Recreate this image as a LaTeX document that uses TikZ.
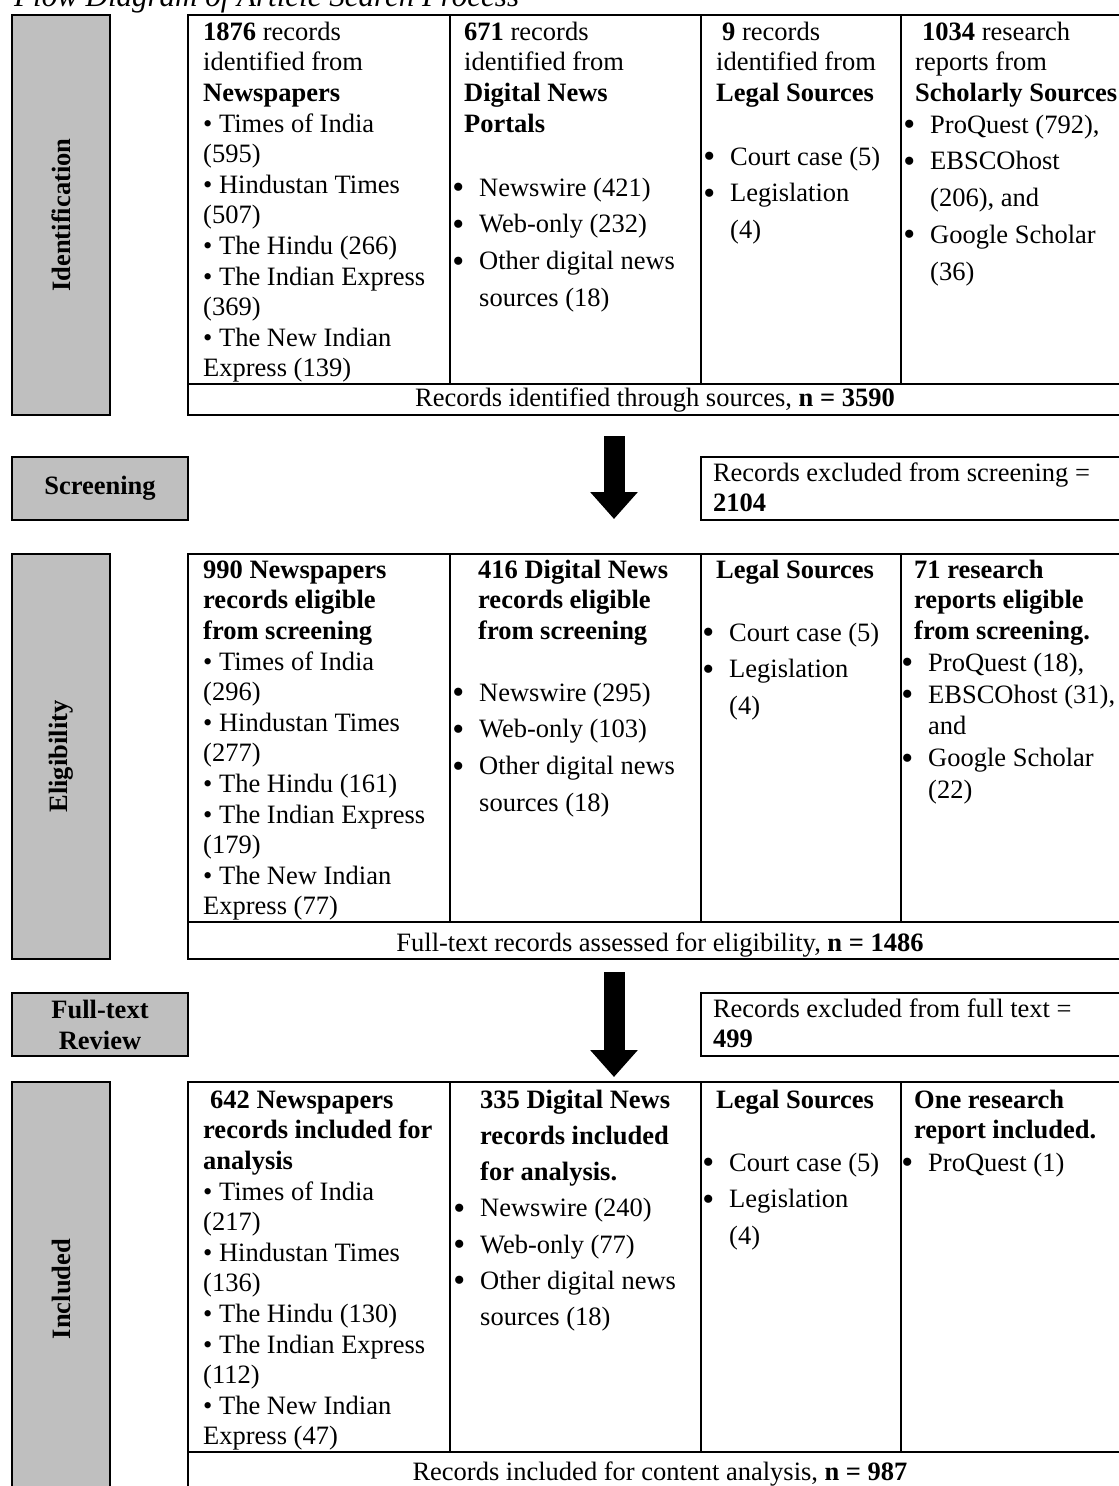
\documentclass[tikz,border=0pt]{standalone}
\usepackage{fontspec}
\setmainfont{Liberation Serif}
\usetikzlibrary{arrows.meta,positioning}
\definecolor{stagegray}{RGB}{191,191,191}
\newcommand{\cellfont}{\fontsize{26.5}{30.6}\selectfont}
\newcommand{\listfont}{\fontsize{26.5}{36.7}\selectfont}
\newcommand{\tstrut}{\rule{0pt}{20pt}}
\newcommand{\bul}{\llap{\raisebox{-2.5pt}{\fontsize{34}{34}\selectfont\textbullet}\hspace{15pt}}}
\tikzset{
  frame/.style={draw=black,line width=2.4pt},
  stage/.style={frame,fill=stagegray,inner sep=0pt,align=center,
    font=\fontsize{26.5}{31}\selectfont\bfseries},
  cell/.style={anchor=north west,inner sep=0pt,align=left,font=\cellfont},
  bullets/.style={cell,font=\listfont},
  caption/.style={anchor=base,inner sep=0pt,font=\cellfont},
  bigarrow/.style={line width=21pt,-{Triangle[length=27pt,width=46pt]}},
}
\begin{document}
\begin{tikzpicture}[x=1pt,y=-1pt]
  \fill[white] (0,0) rectangle (1119,1486);
  \useasboundingbox (0,0) rectangle (1119,1486);
  % title
  \node[anchor=base west,inner sep=0pt,font=\fontsize{31}{36}\selectfont\itshape] (title) at (14,6) {Flow Diagram of Article Search Process};
  % table frames
  \foreach \t/\s/\b in {15/384/415,554/922/959,1082/1452/1496}{
    \draw[frame] (188,\t) rectangle (1134,\b);
    \draw[frame] (188,\s) -- (1134,\s);
    \foreach \x in {450,701,901} \draw[frame] (\x,\t) -- (\x,\s);
  }
  % stages
  \node[stage,rotate=90,minimum width=400pt,minimum height=98pt] (ident) at (61,215) {Identification};
  \node[stage,minimum width=176pt,minimum height=63pt] (screen) at (100,488.5) {Screening};
  \node[stage,rotate=90,minimum width=405pt,minimum height=98pt] (elig) at (61,756.5) {Eligibility};
  \node[stage,minimum width=176pt,minimum height=63pt] (review) at (100,1024.5) {Full-text\\Review};
  \node[stage,rotate=90,minimum width=414pt,minimum height=98pt] (incl) at (61,1289) {Included};
  % exclusions
  \node[frame,minimum width=433pt,minimum height=63pt,inner sep=0pt] (excl1) at (917.5,488.5) {};
  \node[cell] (excl1txt) at ([xshift=13pt,yshift=-5pt]excl1.north west) {\tstrut Records excluded from screening =\\\textbf{2104}};
  \node[frame,minimum width=433pt,minimum height=63pt,inner sep=0pt] (excl2) at (917.5,1024.5) {};
  \node[cell] (excl2txt) at ([xshift=13pt,yshift=-5pt]excl2.north west) {\tstrut Records excluded from full text =\\\textbf{499}};
  % identification
  \node[cell] (news1) at (203,20) {\tstrut\textbf{1876} records\\identified from\\\textbf{Newspapers}\\\textbullet\ Times of India\\(595)\\\textbullet\ Hindustan Times\\(507)\\\textbullet\ The Hindu (266)\\\textbullet\ The Indian Express\\(369)\\\textbullet\ The New Indian\\Express (139)};
  \node[cell] (dig1) at (464,20) {\tstrut\textbf{671} records\\identified from\\\textbf{Digital News}\\\textbf{Portals}};
  \node[bullets] (dig1list) at (479,176) {\tstrut\bul Newswire (421)\\\bul Web-only (232)\\\bul Other digital news\\sources (18)};
  \node[cell] (legal1) at (716,20) {\tstrut\hspace*{6pt}\textbf{9} records\\identified from\\\textbf{Legal Sources}};
  \node[bullets] (legal1list) at (730,145) {\tstrut\bul Court case (5)\\\bul Legislation\\(4)};
  \node[cell] (schol1) at (915,20) {\tstrut\hspace*{7pt}\textbf{1034} research\\reports from\\\textbf{Scholarly Sources}};
  \node[bullets] (schol1list) at (930,113) {\tstrut\bul ProQuest (792),\\\bul EBSCOhost\\(206), and\\\bul Google Scholar\\(36)};
  \node[caption] (total1) at (655,406) {Records identified through sources, \textbf{n = 3590}};
  % eligibility
  \node[cell] (news2) at (203,558) {\tstrut\textbf{990 Newspapers}\\\textbf{records eligible}\\\textbf{from screening}\\\textbullet\ Times of India\\(296)\\\textbullet\ Hindustan Times\\(277)\\\textbullet\ The Hindu (161)\\\textbullet\ The Indian Express\\(179)\\\textbullet\ The New Indian\\Express (77)};
  \node[cell] (dig2) at (478,558) {\tstrut\textbf{416 Digital News}\\\textbf{records eligible}\\\textbf{from screening}};
  \node[bullets] (dig2list) at (479,681) {\tstrut\bul Newswire (295)\\\bul Web-only (103)\\\bul Other digital news\\sources (18)};
  \node[cell] (legal2) at (716,558) {\tstrut\textbf{Legal Sources}};
  \node[bullets] (legal2list) at (729,621) {\tstrut\bul Court case (5)\\\bul Legislation\\(4)};
  \node[cell] (schol2) at (914,558) {\tstrut\textbf{71 research}\\\textbf{reports eligible}\\\textbf{from screening.}};
  \node[cell,font=\fontsize{26.5}{31.8}\selectfont] (schol2list) at (928,651) {\tstrut\bul ProQuest (18),\\\bul EBSCOhost (31),\\and\\\bul Google Scholar\\(22)};
  \node[caption] (total2) at (660,951) {Full-text records assessed for eligibility, \textbf{n = 1486}};
  % included
  \node[cell] (news3) at (203,1088) {\tstrut\hspace*{7pt}\textbf{642 Newspapers}\\\textbf{records included for}\\\textbf{analysis}\\\textbullet\ Times of India\\(217)\\\textbullet\ Hindustan Times\\(136)\\\textbullet\ The Hindu (130)\\\textbullet\ The Indian Express\\(112)\\\textbullet\ The New Indian\\Express (47)};
  \node[cell,font=\fontsize{26.5}{36.2}\selectfont] (dig3) at (480,1088) {\tstrut\textbf{335 Digital News}\\\textbf{records included}\\\textbf{for analysis.}\\\bul Newswire (240)\\\bul Web-only (77)\\\bul Other digital news\\sources (18)};
  \node[cell] (legal3) at (716,1088) {\tstrut\textbf{Legal Sources}};
  \node[bullets] (legal3list) at (729,1151) {\tstrut\bul Court case (5)\\\bul Legislation\\(4)};
  \node[cell] (schol3) at (914,1088) {\tstrut\textbf{One research}\\\textbf{report included.}};
  \node[bullets] (schol3list) at (928,1151) {\tstrut\bul ProQuest (1)};
  \node[caption] (total3) at (660,1480) {Records included for content analysis, \textbf{n = 987}};
  % arrows
  \coordinate (arrow1top) at (614,436);
  \coordinate (arrow1tip) at (614,519);
  \draw[bigarrow] (arrow1top) -- (arrow1tip);
  \coordinate (arrow2top) at (614,972);
  \coordinate (arrow2tip) at (614,1077);
  \draw[bigarrow] (arrow2top) -- (arrow2tip);
\end{tikzpicture}
\end{document}
